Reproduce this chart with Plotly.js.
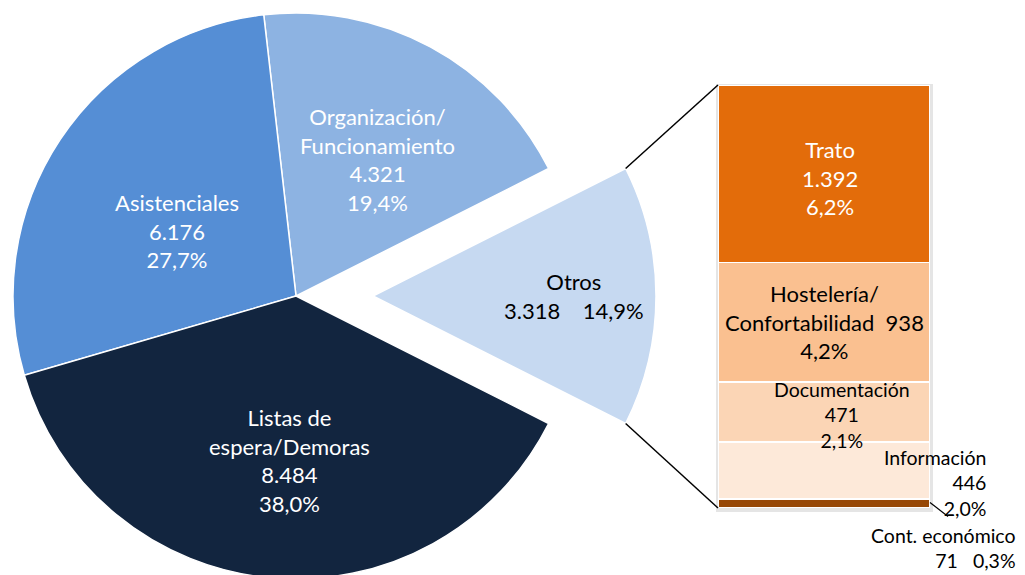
<!DOCTYPE html>
<html>
<head>
<meta charset="utf-8">
<script src="https://cdn.plot.ly/plotly-3.0.1.min.js"></script>
<style>
  html, body { margin: 0; padding: 0; background: #ffffff; overflow: hidden; }
  #chart { width: 1025px; height: 600px; }
</style>
</head>
<body>
<div id="chart"></div>
<script>
// ---------------- DATA ----------------
const pieCategories = ['Otros', 'Organización/<br>Funcionamiento', 'Asistenciales', 'Listas de<br>espera/Demoras'];
const pieValues = [3318, 4321, 6176, 8484];

// breakdown of "Otros" (bottom of stack first)
const barCategories = ['Cont. económico', 'Información', 'Documentación', 'Hostelería/<br>Confortabilidad', 'Trato'];
const barValues = [71, 446, 471, 938, 1392];

// ---------------- STYLE ----------------
const pieColors = ['#C6D9F1', '#8DB3E2', '#558ED5', '#12253F'];
const pieTextColors = ['#000000', '#ffffff', '#ffffff', '#ffffff'];
const barColors = ['#974806', '#FDE9D9', '#FBD5B5', '#FAC090', '#E36C0A'];
const barTextColors = ['#000000', '#000000', '#000000', '#000000', '#ffffff'];
const FONT = 'Lato, "Open Sans", sans-serif';
const BIG = 22, SMALL = 19.5;

const W = 1025, H = 600;
const PIE_CX = 296, PIE_CY = 296, PIE_R = 283, PULL_PX = 77;
const BAR_L = 718, BAR_R = 930, BAR_T = 85, BAR_B = 508;
// label radial fraction and angle nudge (deg) for pie slices
const PIE_LABEL_POS = [{f: 0.71, da: 0}, {f: 0.56, da: -2.5}, {f: 0.48, da: 5}, {f: 0.58, da: 3}];

// ---------------- HELPERS ----------------
const total = pieValues.reduce((a, b) => a + b, 0);
const otrosTotal = barValues.reduce((a, b) => a + b, 0);
function fmtInt(v) { return String(v).replace(/\B(?=(\d{3})+(?!\d))/g, '.'); }
function fmtPct(v) { return (v / total * 100).toFixed(1).replace('.', ',') + '%'; }
const px2x = p => p / W;
const px2y = p => 1 - p / H;
const NB = '\u00a0';

// ---------------- PIE TRACES ----------------
const shareOtros = pieValues[0] / total;
const rotation = 90 - 180 * shareOtros;  // Otros centred on the right
const transparent = 'rgba(0,0,0,0)';

const mainDomain = {
  x: [px2x(PIE_CX - PIE_R), px2x(PIE_CX + PIE_R)],
  y: [px2y(PIE_CY + PIE_R), px2y(PIE_CY - PIE_R)]
};
const pulledDomain = {
  x: [px2x(PIE_CX + PULL_PX - PIE_R), px2x(PIE_CX + PULL_PX + PIE_R)],
  y: mainDomain.y
};

const pieMain = {
  type: 'pie', values: pieValues, labels: pieCategories,
  sort: false, direction: 'counterclockwise', rotation: rotation,
  marker: {colors: pieColors.map((c, i) => i === 0 ? transparent : c),
           line: {color: '#ffffff', width: pieValues.map((v, i) => i === 0 ? 0 : 1.5)}},
  textinfo: 'none', hoverinfo: 'skip', domain: mainDomain, showlegend: false
};
const pieOtros = {
  type: 'pie', values: pieValues, labels: pieCategories,
  sort: false, direction: 'counterclockwise', rotation: rotation,
  marker: {colors: pieColors.map((c, i) => i === 0 ? c : transparent),
           line: {color: '#ffffff', width: pieValues.map((v, i) => i === 0 ? 1.5 : 0)}},
  textinfo: 'none', hoverinfo: 'skip', domain: pulledDomain, showlegend: false
};

// ---------------- BAR TRACES ----------------
const barTraces = barValues.map((v, i) => ({
  type: 'bar', x: [0], y: [v], width: [1],
  marker: {color: barColors[i], line: {color: '#ffffff', width: 1.5}},
  hoverinfo: 'skip', showlegend: false
}));

// ---------------- ANNOTATIONS ----------------
const annotations = [];
let angle = -shareOtros * 180;
pieValues.forEach((v, i) => {
  const span = v / total * 360;
  const mid = angle + span / 2 + PIE_LABEL_POS[i].da;
  angle += span;
  const cx = PIE_CX + (i === 0 ? PULL_PX : 0);
  const rr = PIE_R * PIE_LABEL_POS[i].f;
  const lx = cx + rr * Math.cos(mid * Math.PI / 180);
  const ly = PIE_CY - rr * Math.sin(mid * Math.PI / 180);
  const text = i === 0
    ? pieCategories[i] + '<br>' + fmtInt(v) + NB + NB + NB + NB + fmtPct(v)
    : pieCategories[i] + '<br>' + fmtInt(v) + '<br>' + fmtPct(v);
  annotations.push({
    xref: 'paper', yref: 'paper', x: px2x(lx), y: px2y(ly),
    xanchor: 'center', yanchor: 'middle', showarrow: false, align: 'center',
    text: text, font: {family: FONT, size: BIG, color: pieTextColors[i]}
  });
});

let cum = 0;
barValues.forEach((v, i) => {
  const mid = cum + v / 2;
  cum += v;
  let a = {xref: 'x', yref: 'y', x: 0, y: mid, showarrow: false,
           xanchor: 'center', yanchor: 'middle', align: 'center',
           font: {family: FONT, size: BIG, color: barTextColors[i]}};
  if (i === 4) { // Trato
    a.text = barCategories[i] + '<br>' + fmtInt(v) + '<br>' + fmtPct(v);
    a.xshift = 6; a.yshift = -4;
  } else if (i === 3) { // Hostelería
    a.text = barCategories[i] + NB + NB + fmtInt(v) + '<br>' + fmtPct(v);
  } else if (i === 2) { // Documentación
    a.text = barCategories[i] + '<br>' + fmtInt(v) + '<br>' + fmtPct(v);
    a.font.size = SMALL; a.xshift = 18; a.yshift = -3;
  } else if (i === 1) { // Información
    a.text = barCategories[i] + '<br>' + fmtInt(v) + '<br>' + fmtPct(v);
    a.font.size = SMALL; a.x = 0.5; a.xanchor = 'right'; a.align = 'right';
    a.xshift = 58; a.yshift = -12;
  } else { // Cont. económico
    a.text = barCategories[i] + '<br>' + fmtInt(v) + NB + NB + NB + fmtPct(v);
    a.font.size = SMALL; a.x = 0.5; a.xanchor = 'right'; a.align = 'right';
    a.xshift = 88; a.yshift = -45;
  }
  annotations.push(a);
});

// ---------------- SHAPES (connectors, shadow, leader) ----------------
const halfAng = shareOtros * Math.PI; // half of Otros angle in radians
const otrosTopX = PIE_CX + PULL_PX + PIE_R * Math.cos(halfAng);
const otrosTopY = PIE_CY - PIE_R * Math.sin(halfAng);
const otrosBotY = PIE_CY + PIE_R * Math.sin(halfAng);
// pixel y of the middle of the "Cont. económico" segment
const contMidY = BAR_B - (barValues[0] / 2) / otrosTotal * (BAR_B - BAR_T);

const shapes = [
  {type: 'rect', xref: 'paper', yref: 'paper', layer: 'below',
   x0: px2x(BAR_L - 2), x1: px2x(BAR_R + 3), y0: px2y(BAR_B + 4), y1: px2y(BAR_T - 1),
   fillcolor: 'rgba(0,0,0,0.10)', line: {width: 0}},
  {type: 'line', xref: 'paper', yref: 'paper',
   x0: px2x(otrosTopX), y0: px2y(otrosTopY), x1: px2x(BAR_L), y1: px2y(BAR_T),
   line: {color: '#000000', width: 1.5}},
  {type: 'line', xref: 'paper', yref: 'paper',
   x0: px2x(otrosTopX), y0: px2y(otrosBotY), x1: px2x(BAR_L), y1: px2y(BAR_B),
   line: {color: '#000000', width: 1.5}},
  {type: 'line', xref: 'paper', yref: 'paper',
   x0: px2x(BAR_R), y0: px2y(contMidY - 1), x1: px2x(BAR_R + 18), y1: px2y(contMidY + 13),
   line: {color: '#000000', width: 1.2}}
];

const layout = {
  width: W, height: H, margin: {l: 0, r: 0, t: 0, b: 0},
  paper_bgcolor: '#ffffff', plot_bgcolor: 'rgba(0,0,0,0)',
  barmode: 'stack', bargap: 0, showlegend: false,
  xaxis: {domain: [px2x(BAR_L), px2x(BAR_R)], range: [-0.5, 0.5], visible: false, fixedrange: true},
  yaxis: {domain: [px2y(BAR_B), px2y(BAR_T)], range: [0, otrosTotal], visible: false, fixedrange: true},
  annotations: annotations, shapes: shapes,
  font: {family: FONT}
};

Plotly.newPlot('chart', [pieMain, pieOtros].concat(barTraces), layout, {displayModeBar: false, staticPlot: true});
</script>
</body>
</html>
